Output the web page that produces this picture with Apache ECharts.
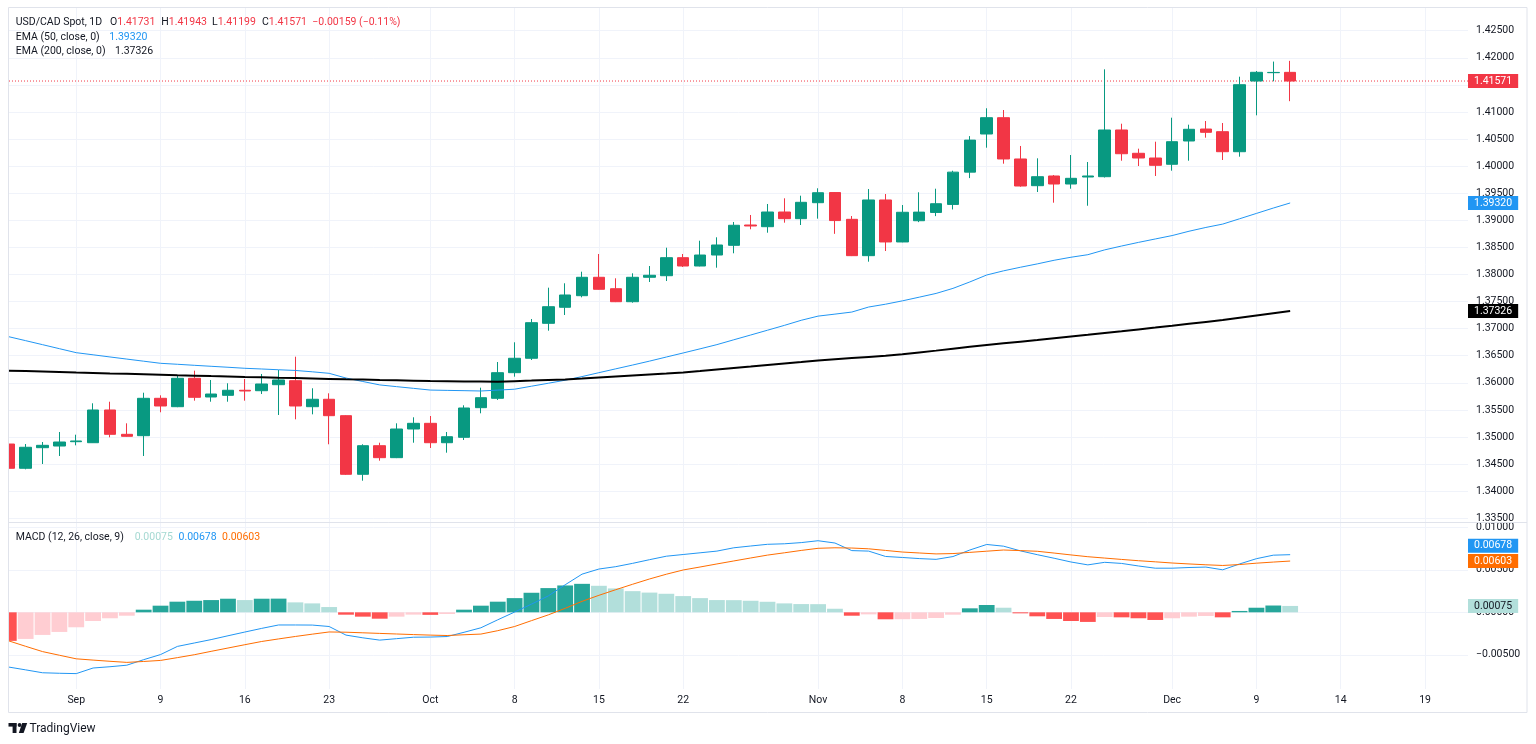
<!DOCTYPE html>
<html>
<head>
<meta charset="utf-8">
<title>USD/CAD Spot, 1D</title>
<script src="https://cdn.jsdelivr.net/npm/echarts@6.0.0/dist/echarts.min.js"></script>
<style>
html,body{margin:0;padding:0;background:#ffffff;overflow:hidden;}
#chart{width:1536px;height:744px;}
</style>
</head>
<body>
<div id="chart"></div>
<script>
// ---------------- data ----------------
const dates = [
  '2024-08-27','2024-08-28','2024-08-29','2024-08-30',
  '2024-09-02','2024-09-03','2024-09-04','2024-09-05','2024-09-06',
  '2024-09-09','2024-09-10','2024-09-11','2024-09-12','2024-09-13',
  '2024-09-16','2024-09-17','2024-09-18','2024-09-19','2024-09-20',
  '2024-09-23','2024-09-24','2024-09-25','2024-09-26','2024-09-27',
  '2024-09-30','2024-10-01','2024-10-02','2024-10-03','2024-10-04',
  '2024-10-07','2024-10-08','2024-10-09','2024-10-10','2024-10-11',
  '2024-10-14','2024-10-15','2024-10-16','2024-10-17','2024-10-18',
  '2024-10-21','2024-10-22','2024-10-23','2024-10-24','2024-10-25',
  '2024-10-28','2024-10-29','2024-10-30','2024-10-31','2024-11-01',
  '2024-11-04','2024-11-05','2024-11-06','2024-11-07','2024-11-08',
  '2024-11-11','2024-11-12','2024-11-13','2024-11-14','2024-11-15',
  '2024-11-18','2024-11-19','2024-11-20','2024-11-21','2024-11-22',
  '2024-11-25','2024-11-26','2024-11-27','2024-11-28','2024-11-29',
  '2024-12-02','2024-12-03','2024-12-04','2024-12-05','2024-12-06',
  '2024-12-09','2024-12-10','2024-12-11'
];

const opens = [
  1.34870,1.34422,1.34802,1.34833,1.34913,1.34894,1.35498,1.35049,1.35024,1.35714,
  1.35559,1.36083,1.35738,1.35769,1.35862,1.35854,1.35965,1.36039,1.35559,1.35696,
  1.35393,1.34311,1.34839,1.34618,1.35147,1.35252,1.34894,1.34994,1.35541,1.35714,
  1.36187,1.36453,1.37098,1.37394,1.37608,1.37948,1.37737,1.37497,1.37948,1.37977,
  1.38310,1.38156,1.38359,1.38538,1.38913,1.38882,1.39153,1.39030,1.39325,1.39512,
  1.39018,1.38347,1.39375,1.38600,1.38992,1.39145,1.39293,1.39889,1.40593,1.40894,
  1.40132,1.39639,1.39818,1.39670,1.39799,1.39805,1.40667,1.40237,1.40150,1.40034,
  1.40464,1.40685,1.40636,1.40266,1.41571,1.41725,1.41731
];
const closes = [
  1.34422,1.34810,1.34846,1.34907,1.34926,1.35498,1.35049,1.35012,1.35714,1.35572,
  1.36083,1.35732,1.35793,1.35862,1.35849,1.35978,1.36052,1.35572,1.35696,1.35393,
  1.34311,1.34839,1.34618,1.35147,1.35252,1.34894,1.35005,1.35535,1.35725,1.36187,
  1.36453,1.37110,1.37405,1.37621,1.37948,1.37726,1.37497,1.37948,1.37985,1.38310,
  1.38156,1.38359,1.38544,1.38908,1.38895,1.39153,1.39030,1.39332,1.39509,1.38995,
  1.38347,1.39375,1.38600,1.39148,1.39151,1.39306,1.39889,1.40480,1.40894,1.40132,
  1.39633,1.39805,1.39670,1.39775,1.39818,1.40667,1.40229,1.40150,1.40015,1.40451,
  1.40680,1.40624,1.40266,1.41503,1.41732,1.41730,1.41571
];
const lows = [
  1.34410,1.34403,1.34501,1.34649,1.34846,1.34890,1.34994,1.35005,1.34649,1.35456,
  1.35550,1.35670,1.35651,1.35651,1.35670,1.35793,1.35406,1.35326,1.35418,1.34865,
  1.34300,1.34193,1.34562,1.34610,1.34894,1.34797,1.34710,1.34944,1.35437,1.35683,
  1.36113,1.36421,1.36962,1.37252,1.37578,1.37720,1.37490,1.37479,1.37861,1.37879,
  1.38138,1.38150,1.38125,1.38391,1.38834,1.38771,1.38956,1.38913,1.39030,1.38750,
  1.38340,1.38236,1.38433,1.38595,1.38966,1.39077,1.39200,1.39779,1.40340,1.40045,
  1.39620,1.39522,1.39325,1.39583,1.39269,1.39790,1.40100,1.40002,1.39818,1.39916,
  1.40100,1.40525,1.40113,1.40174,1.40938,1.41566,1.41199
];
const highs = [
  1.34880,1.34870,1.34907,1.35092,1.35042,1.35622,1.35651,1.35252,1.35817,1.35769,
  1.36144,1.36224,1.36052,1.35991,1.36070,1.36163,1.36237,1.36482,1.35899,1.35806,
  1.35400,1.34865,1.34894,1.35252,1.35363,1.35387,1.35092,1.35585,1.35910,1.36384,
  1.36748,1.37178,1.37756,1.37837,1.38051,1.38378,1.37929,1.38021,1.38156,1.38494,
  1.38378,1.38623,1.38686,1.38969,1.39098,1.39301,1.39406,1.39454,1.39591,1.39520,
  1.39079,1.39578,1.39485,1.39282,1.39517,1.39583,1.39915,1.40554,1.41068,1.41036,
  1.40372,1.40144,1.39836,1.40205,1.40076,1.41787,1.40783,1.40322,1.40451,1.40894,
  1.40765,1.40833,1.40796,1.41651,1.41756,1.41930,1.41943
];
const ema50 = [
  1.36851,1.36778,1.36704,1.36630,1.36556,1.36517,1.36477,1.36438,1.36399,1.36360,
  1.36342,1.36323,1.36305,1.36287,1.36268,1.36255,1.36241,1.36228,1.36203,1.36175,
  1.36088,1.36024,1.35961,1.35929,1.35898,1.35866,1.35860,1.35855,1.35849,1.35865,
  1.35882,1.35937,1.35992,1.36048,1.36115,1.36187,1.36258,1.36328,1.36400,1.36476,
  1.36551,1.36627,1.36705,1.36794,1.36882,1.36971,1.37060,1.37154,1.37231,1.37268,
  1.37306,1.37399,1.37451,1.37513,1.37581,1.37650,1.37743,1.37862,1.37990,1.38067,
  1.38133,1.38195,1.38262,1.38318,1.38365,1.38454,1.38525,1.38592,1.38655,1.38718,
  1.38798,1.38868,1.38930,1.39028,1.39127,1.39226,1.39320
];
const ema200 = [
  1.36224,1.36216,1.36207,1.36199,1.36190,1.36182,1.36173,1.36165,1.36156,1.36148,
  1.36139,1.36132,1.36124,1.36117,1.36109,1.36102,1.36094,1.36087,1.36079,1.36072,
  1.36065,1.36059,1.36052,1.36046,1.36040,1.36033,1.36030,1.36026,1.36023,1.36020,
  1.36031,1.36041,1.36052,1.36062,1.36078,1.36097,1.36116,1.36135,1.36153,1.36172,
  1.36192,1.36219,1.36247,1.36274,1.36301,1.36329,1.36356,1.36383,1.36411,1.36436,
  1.36457,1.36478,1.36499,1.36525,1.36560,1.36594,1.36629,1.36664,1.36698,1.36729,
  1.36760,1.36791,1.36823,1.36854,1.36885,1.36919,1.36952,1.36986,1.37019,1.37053,
  1.37088,1.37123,1.37158,1.37201,1.37243,1.37285,1.37326
];
const macdLine = [
  -0.00644,-0.00677,-0.00711,-0.00717,-0.00721,-0.00655,-0.00640,-0.00622,-0.00557,-0.00497,
  -0.00401,-0.00361,-0.00321,-0.00276,-0.00232,-0.00189,-0.00149,-0.00149,-0.00150,-0.00167,
  -0.00268,-0.00300,-0.00327,-0.00310,-0.00293,-0.00291,-0.00285,-0.00235,-0.00182,-0.00088,
  0.00003,0.00096,0.00193,0.00324,0.00449,0.00509,0.00537,0.00576,0.00619,0.00660,
  0.00680,0.00700,0.00720,0.00759,0.00780,0.00800,0.00806,0.00820,0.00842,0.00815,
  0.00726,0.00720,0.00657,0.00645,0.00632,0.00623,0.00656,0.00733,0.00798,0.00778,
  0.00723,0.00678,0.00636,0.00592,0.00558,0.00588,0.00575,0.00545,0.00519,0.00519,
  0.00527,0.00532,0.00500,0.00569,0.00631,0.00672,0.00678
];
const signalLine = [
  -0.00336,-0.00400,-0.00462,-0.00505,-0.00547,-0.00562,-0.00576,-0.00589,-0.00578,-0.00566,
  -0.00533,-0.00499,-0.00459,-0.00420,-0.00381,-0.00343,-0.00313,-0.00284,-0.00257,-0.00231,
  -0.00234,-0.00241,-0.00248,-0.00255,-0.00262,-0.00268,-0.00273,-0.00264,-0.00256,-0.00216,
  -0.00167,-0.00098,-0.00030,0.00047,0.00129,0.00200,0.00266,0.00330,0.00392,0.00448,
  0.00498,0.00533,0.00569,0.00604,0.00639,0.00673,0.00700,0.00728,0.00753,0.00759,
  0.00756,0.00747,0.00728,0.00709,0.00698,0.00687,0.00691,0.00705,0.00719,0.00733,
  0.00726,0.00718,0.00697,0.00675,0.00654,0.00638,0.00622,0.00607,0.00594,0.00580,
  0.00569,0.00559,0.00551,0.00562,0.00578,0.00591,0.00603
];
const macdHist = [
  -0.00336,-0.00313,-0.00266,-0.00231,-0.00176,-0.00102,-0.00070,-0.00040,0.00031,0.00078,
  0.00125,0.00136,0.00144,0.00160,0.00144,0.00160,0.00161,0.00117,0.00105,0.00062,
  -0.00028,-0.00051,-0.00075,-0.00051,-0.00027,-0.00030,-0.00020,0.00031,0.00078,0.00125,
  0.00167,0.00230,0.00285,0.00316,0.00335,0.00312,0.00281,0.00249,0.00232,0.00218,
  0.00191,0.00167,0.00144,0.00143,0.00136,0.00124,0.00105,0.00097,0.00096,0.00042,
  -0.00040,-0.00024,-0.00082,-0.00081,-0.00078,-0.00067,-0.00028,0.00047,0.00086,0.00054,
  -0.00012,-0.00047,-0.00078,-0.00102,-0.00113,-0.00055,-0.00059,-0.00070,-0.00090,-0.00070,
  -0.00051,-0.00043,-0.00059,0.00016,0.00054,0.00080,0.00075
];

// tick labels
const xTickIdx  = [4, 9, 14, 19, 25, 30, 35, 40, 48, 53, 58, 63, 69, 74, 79, 84];
const xTickText = ['Sep','9','16','23','Oct','8','15','22','Nov','8','15','22','Dec','9','14','19'];
const priceTicks = [1.335,1.340,1.345,1.350,1.355,1.360,1.365,1.370,1.375,1.380,1.385,1.390,1.395,1.400,1.405,1.410,1.415,1.420,1.425];
const macdTicks = [-0.005, 0, 0.005, 0.010];

// ---------------- styling / layout ----------------
const FONT = 'Roboto, "Liberation Sans", Arial, sans-serif';
const TXT = '#131722';
const UP = '#089981', DOWN = '#F23645';
const BLUE = '#2196F3', ORANGE = '#FF6D00';
const GRID_C = '#F0F3FA', FRAME_C = '#E0E3EB';
const FS = 10.5;

const X_MIN = 0.012, X_MAX = 86.548;
const PRICE_MIN = 1.334304, PRICE_MAX = 1.42932;
const MACD_MIN = -0.00902, MACD_MAX = 0.010506;

const last = closes.length - 1;
const fmt5 = v => (v < 0 ? '\u2212' : '') + Math.abs(v).toFixed(5);

const candleData = opens.map((o, i) => [i, o, closes[i], lows[i], highs[i]]);
const toPts = arr => arr.map((v, i) => [i, v]);
const histData = macdHist.map((v, i) => {
  const prev = i > 0 ? macdHist[i - 1] : 0;
  let c;
  if (v >= 0) c = v > prev ? '#26A69A' : '#B2DFDB';
  else c = v < prev ? '#FF5252' : '#FFCDD2';
  return { value: [i, v], itemStyle: { color: c } };
});
// horizontal last-price line across the whole pane
const lastPriceLine = [[X_MIN, closes[last]], [X_MAX, closes[last]]];

const gridLine = { show: true, lineStyle: { color: GRID_C, width: 1 } };

function xAxisCfg(gi, showLabel) {
  return {
    type: 'value', gridIndex: gi, min: X_MIN, max: X_MAX,
    axisLine: { show: false },
    axisTick: { show: false, customValues: xTickIdx },
    axisLabel: {
      show: showLabel, customValues: xTickIdx,
      formatter: v => { const k = xTickIdx.indexOf(Math.round(v)); return k >= 0 ? xTickText[k] : ''; },
      color: TXT, fontSize: FS, fontFamily: FONT, margin: 6
    },
    splitLine: gridLine
  };
}
function yAxisCfg(gi, min, max, ticks) {
  return {
    type: 'value', gridIndex: gi, position: 'right', min: min, max: max,
    axisLine: { show: false },
    axisTick: { show: false, customValues: ticks },
    axisLabel: { customValues: ticks, formatter: v => fmt5(v), color: TXT, fontSize: FS, fontFamily: FONT, margin: 8 },
    splitLine: gridLine
  };
}
// one value box on the price scale
function markItem(v, bg, fg, dy) {
  return {
    yAxis: v,
    lineStyle: { width: 0, color: 'rgba(255,255,255,0)' },
    label: {
      show: true, position: 'end', distance: 0,
      formatter: () => fmt5(v),
      backgroundColor: bg, color: fg, padding: [2, 6, 1, 6],
      fontSize: FS, fontFamily: FONT, offset: [0, dy || 0]
    }
  };
}
function marks(items) {
  return { symbol: 'none', silent: true, animation: false, precision: 5, data: items };
}

// legend texts
function legendText(x, y, parts) {
  const rich = {}; let text = '';
  parts.forEach((p, k) => {
    rich['s' + k] = { fill: p[1], fontSize: FS, fontFamily: FONT };
    text += '{s' + k + '|' + p[0] + '}';
  });
  return { type: 'text', x: x, y: y, z: 120, silent: true,
    style: { text: text, rich: rich, fontSize: FS, fontFamily: FONT, verticalAlign: 'middle', align: 'left' } };
}
const chg = closes[last] - closes[last - 1];
const pct = chg / closes[last - 1] * 100;
const chgText = fmt5(chg) + ' (' + (pct < 0 ? '\u2212' : '') + Math.abs(pct).toFixed(2) + '%)';

const graphics = [
  { type: 'rect', z: 100, silent: true, shape: { x: 0, y: 0, width: 8.6, height: 744 }, style: { fill: '#ffffff' } },
  { type: 'rect', z: 101, silent: true, shape: { x: 8.5, y: 7.5, width: 1518.5, height: 705 }, style: { fill: 'none', stroke: FRAME_C, lineWidth: 1 } },
  { type: 'line', z: 101, silent: true, shape: { x1: 8.5, y1: 522.5, x2: 1527, y2: 522.5 }, style: { stroke: FRAME_C, lineWidth: 1 } },
  legendText(15.7, 22, [['USD/CAD Spot, 1D', TXT]]),
  legendText(110, 22, [['O', TXT], [opens[last].toFixed(5), DOWN]]),
  legendText(161.3, 22, [['H', TXT], [highs[last].toFixed(5), DOWN]]),
  legendText(212, 22, [['L', TXT], [lows[last].toFixed(5), DOWN]]),
  legendText(262, 22, [['C', TXT], [closes[last].toFixed(5), DOWN]]),
  legendText(312.3, 22, [[chgText, DOWN]]),
  legendText(15.7, 37.3, [['EMA (50, close, 0)', TXT]]),
  legendText(109.3, 37.3, [[ema50[last].toFixed(5), BLUE]]),
  legendText(15.7, 51.7, [['EMA (200, close, 0)', TXT]]),
  legendText(115, 51.7, [[ema200[last].toFixed(5), TXT]]),
  legendText(15.7, 537.3, [['MACD (12, 26, close, 9)', TXT]]),
  legendText(134.7, 537.3, [[fmt5(macdHist[last]), '#A5D9D2']]),
  legendText(178.5, 537.3, [[fmt5(macdLine[last]), BLUE]]),
  legendText(222, 537.3, [[fmt5(signalLine[last]), ORANGE]]),
  // TradingView watermark
  { type: 'rect', z: 120, silent: true, shape: { x: 8.5, y: 723, width: 8, height: 3.6 }, style: { fill: TXT } },
  { type: 'rect', z: 120, silent: true, shape: { x: 12.6, y: 723, width: 3.9, height: 10 }, style: { fill: TXT } },
  { type: 'circle', z: 120, silent: true, shape: { cx: 19.6, cy: 725, r: 1.9 }, style: { fill: TXT } },
  { type: 'polygon', z: 120, silent: true, shape: { points: [[22.2, 723], [27.2, 723], [23.6, 733], [18.8, 733]] }, style: { fill: TXT } },
  { type: 'text', z: 120, silent: true, x: 29.5, y: 728.5, style: { text: 'TradingView', fill: TXT, fontSize: 12, fontFamily: FONT, verticalAlign: 'middle', align: 'left' } }
];

const option = {
  animation: false,
  backgroundColor: '#ffffff',
  grid: [
    { left: 9, width: 1459, top: 7.3, height: 514.7, outerBoundsMode: 'none' },
    { left: 9, width: 1459, top: 523, height: 166, outerBoundsMode: 'none' }
  ],
  xAxis: [xAxisCfg(0, false), xAxisCfg(1, true)],
  yAxis: [
    yAxisCfg(0, PRICE_MIN, PRICE_MAX, priceTicks),
    yAxisCfg(1, MACD_MIN, MACD_MAX, macdTicks)
  ],
  series: [
    {
      type: 'line', name: 'Last price', xAxisIndex: 0, yAxisIndex: 0, data: lastPriceLine,
      symbol: 'none', silent: true, z: 1,
      lineStyle: { color: DOWN, width: 1, type: [1, 2] },
      markLine: marks([markItem(closes[last], DOWN, '#ffffff')])
    },
    {
      type: 'candlestick', name: 'USD/CAD', xAxisIndex: 0, yAxisIndex: 0,
      data: candleData, encode: { x: 0, y: [1, 2, 3, 4] },
      barWidth: 12, silent: true, z: 2,
      itemStyle: { color: UP, color0: DOWN, borderColor: UP, borderColor0: DOWN, borderWidth: 1 }
    },
    {
      type: 'line', name: 'EMA50', xAxisIndex: 0, yAxisIndex: 0, data: toPts(ema50),
      symbol: 'none', silent: true, z: 3, lineStyle: { color: BLUE, width: 1 },
      markLine: marks([markItem(ema50[last], BLUE, '#ffffff')])
    },
    {
      type: 'line', name: 'EMA200', xAxisIndex: 0, yAxisIndex: 0, data: toPts(ema200),
      symbol: 'none', silent: true, z: 3, lineStyle: { color: '#000000', width: 2 },
      markLine: marks([markItem(ema200[last], '#000000', '#ffffff')])
    },
    {
      type: 'bar', name: 'Histogram', xAxisIndex: 1, yAxisIndex: 1, data: histData,
      barWidth: 15.8, silent: true,
      markLine: marks([markItem(macdHist[last], '#B2DFDB', TXT)])
    },
    {
      type: 'line', name: 'MACD', xAxisIndex: 1, yAxisIndex: 1, data: toPts(macdLine),
      symbol: 'none', silent: true, lineStyle: { color: BLUE, width: 1 },
      markLine: marks([markItem(macdLine[last], BLUE, '#ffffff', -9)])
    },
    {
      type: 'line', name: 'Signal', xAxisIndex: 1, yAxisIndex: 1, data: toPts(signalLine),
      symbol: 'none', silent: true, lineStyle: { color: ORANGE, width: 1 },
      markLine: marks([markItem(signalLine[last], ORANGE, '#ffffff')])
    }
  ],
  graphic: graphics
};

const chart = echarts.init(document.getElementById('chart'), null, { renderer: 'canvas' });
chart.setOption(option);
</script>
</body>
</html>
